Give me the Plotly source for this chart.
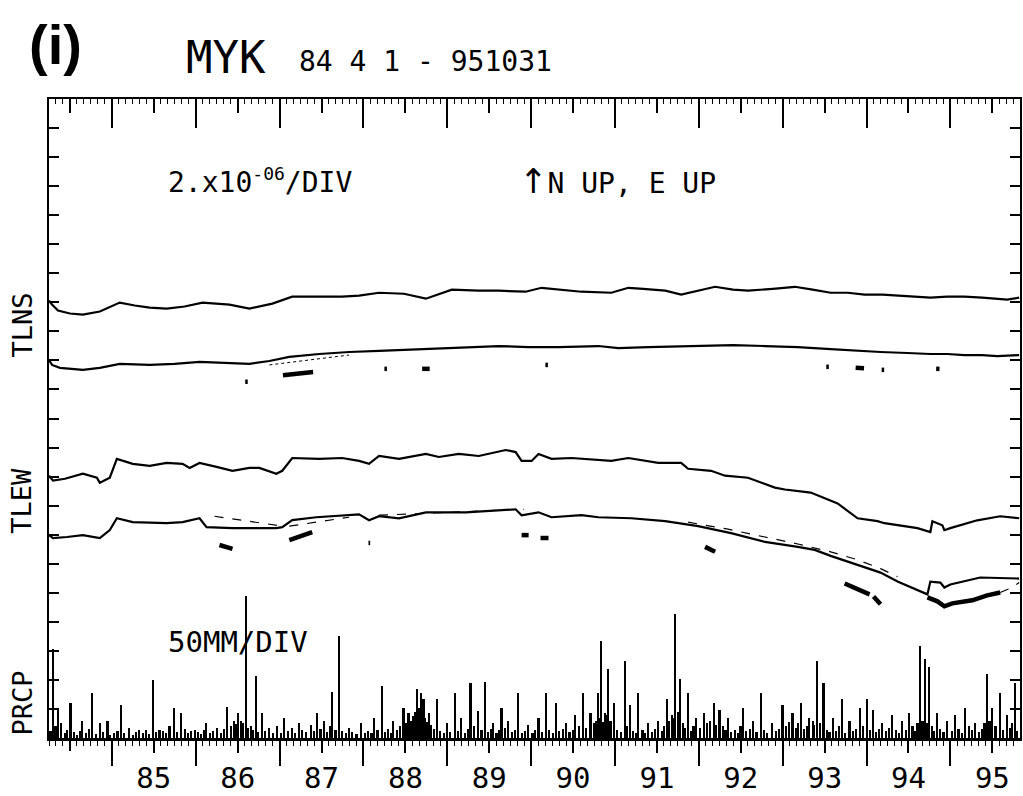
import plotly.graph_objects as go

# ---------------------------------------------------------------------------
# MYK tilt station, 1984-04-01 .. 1995-10-31
# Times are decimal years; tilt values are in micro-radians relative to a
# reference level of each record; precipitation in mm.
# ---------------------------------------------------------------------------

# TLNS (north-south tilt), raw record
tlns_raw_t = [1984.25, 1984.286, 1984.357, 1984.50, 1984.654, 1984.856, 1985.094, 1985.273,
              1985.451, 1985.653, 1985.867, 1986.081, 1986.402, 1986.64, 1986.914, 1987.151,
              1987.472, 1987.746, 1987.948, 1988.186, 1988.483, 1988.745, 1989.054, 1989.375,
              1989.613, 1989.934, 1990.124, 1990.326, 1990.6, 1990.956, 1991.159, 1991.337,
              1991.599, 1991.789, 1991.991, 1992.194, 1992.407, 1992.586, 1992.883, 1993.144,
              1993.358, 1993.572, 1993.775, 1993.977, 1994.191, 1994.369, 1994.547, 1994.761,
              1994.963, 1995.166, 1995.38, 1995.558, 1995.677, 1995.82]
tlns_raw_v = [0.48, 0.2, -0.2, -0.41, -0.48, -0.27, 0.34, 0.14,
              0.0, -0.07, 0.07, 0.34, 0.2, -0.07, 0.27, 0.75,
              0.75, 0.75, 0.82, 1.02, 0.95, 0.61, 1.23, 1.16,
              1.16, 1.09, 1.36, 1.23, 1.09, 1.02, 1.36, 1.29,
              1.16, 0.89, 1.16, 1.43, 1.23, 1.16, 1.29, 1.43,
              1.23, 1.02, 1.02, 0.89, 0.89, 0.82, 0.75, 0.68,
              0.75, 0.75, 0.68, 0.61, 0.54, 0.68]

# TLNS, corrected record
tlns_cor_t = [1984.25, 1984.286, 1984.381, 1984.654, 1984.856, 1985.094, 1985.451, 1985.748,
              1986.045, 1986.343, 1986.64, 1986.878, 1987.116, 1987.472, 1987.829, 1988.186,
              1988.424, 1988.721, 1989.018, 1989.292, 1989.613, 1989.97, 1990.326, 1990.802,
              1991.04, 1991.396, 1991.991, 1992.407, 1992.788, 1993.18, 1993.572, 1993.893,
              1994.167, 1994.488, 1994.761, 1994.963, 1995.166, 1995.38, 1995.558, 1995.82]
tlns_cor_v = [0.27, -0.07, -0.27, -0.41, -0.27, 0.0, -0.07, 0.0,
              0.14, 0.07, 0.0, 0.2, 0.48, 0.68, 0.82, 0.89,
              0.95, 1.02, 1.09, 1.16, 1.23, 1.16, 1.16, 1.23,
              1.09, 1.16, 1.23, 1.29, 1.23, 1.16, 1.02, 0.89,
              0.82, 0.75, 0.68, 0.68, 0.61, 0.61, 0.54, 0.61]

# TLNS, interpolated trend segment (thin)
tlns_trend_t = [1986.878, 1987.829]
tlns_trend_v = [-0.07, 0.61]

# TLNS, removed offset pieces (relative to the corrected record level)
tlns_off_t = [1986.59, 1986.62, None, 1987.04, 1987.17, 1987.30, 1987.40, None,
              1988.25, 1988.28, None, 1988.70, 1988.79, None, 1990.17, 1990.20, None,
              1993.52, 1993.55, None, 1993.87, 1993.97, None, 1994.18, 1994.21, None,
              1994.83, 1994.87]
tlns_off_v = [-1.23, -1.23, None, -0.78, -0.70, -0.62, -0.56, None,
              -0.34, -0.34, None, -0.34, -0.34, None, -0.07, -0.07, None,
              -0.2, -0.2, None, -0.27, -0.30, None, -0.41, -0.41, None,
              -0.34, -0.34]

# TLEW (east-west tilt), raw record
tlew_raw_t = [1984.25, 1984.298, 1984.44, 1984.654, 1984.821, 1984.856, 1984.975, 1985.059,
              1985.249, 1985.451, 1985.653, 1985.843, 1985.927, 1986.045, 1986.248, 1986.438,
              1986.64, 1986.759, 1986.961, 1987.032, 1987.151, 1987.472, 1987.746, 1987.948,
              1988.067, 1988.186, 1988.424, 1988.745, 1988.899, 1989.137, 1989.375, 1989.696,
              1989.815, 1989.886, 1990.005, 1990.088, 1990.243, 1990.481, 1990.956, 1991.159,
              1991.515, 1991.789, 1991.872, 1992.146, 1992.312, 1992.586, 1992.907, 1993.026,
              1993.334, 1993.655, 1993.893, 1994.131, 1994.214, 1994.607, 1994.761, 1994.785,
              1994.904, 1994.928, 1994.999, 1995.32, 1995.594, 1995.82]
tlew_raw_v = [-0.68, -1.02, -0.89, -0.54, -0.82, -1.16, -0.82, 0.48,
              0.14, 0.0, 0.2, 0.14, -0.14, 0.2, -0.07, -0.34,
              -0.14, -0.14, -0.54, -0.34, 0.54, 0.48, 0.54, 0.34,
              0.14, 0.68, 0.48, 0.82, 0.61, 0.82, 0.68, 1.09,
              0.95, 0.34, 0.34, 0.82, 0.48, 0.54, 0.34, 0.54,
              0.2, 0.2, -0.2, -0.34, -0.68, -0.82, -1.5, -1.63,
              -1.84, -2.59, -3.61, -3.81, -3.95, -4.29, -4.56, -3.81,
              -4.09, -4.43, -4.29, -3.75, -3.47, -3.61]

# TLEW, corrected record
tlew_cor_t = [1984.25, 1984.298, 1984.464, 1984.654, 1984.856, 1984.975, 1985.059, 1985.249,
              1985.653, 1985.843, 1986.045, 1986.129, 1986.438, 1986.961, 1987.032, 1987.151,
              1987.437, 1987.746, 1987.948, 1988.067, 1988.186, 1988.424, 1988.745, 1989.22,
              1989.613, 1989.815, 1989.886, 1990.088, 1990.243, 1990.6, 1990.802, 1991.194,
              1991.599, 1991.991, 1992.384, 1992.788, 1993.18, 1993.382, 1993.572, 1993.893,
              1994.167, 1994.369, 1994.726, 1994.761, 1994.88, 1994.928, 1994.999, 1995.356,
              1995.82]
tlew_cor_v = [-0.89, -1.09, -1.02, -0.89, -1.09, -0.54, 0.27, 0.0,
              -0.07, 0.0, 0.27, -0.34, -0.41, -0.41, -0.34, 0.14,
              0.34, 0.48, 0.54, 0.14, 0.41, 0.27, 0.68, 0.68,
              0.82, 0.89, 0.48, 0.68, 0.34, 0.48, 0.34, 0.27,
              0.07, -0.27, -0.75, -1.36, -1.7, -1.91, -2.32, -2.93,
              -3.47, -4.09, -4.97, -4.09, -4.16, -4.5, -4.29, -3.81,
              -3.88]

# TLEW, interpolated trend segments (thin)
tlew_trend_t = [1986.224, 1987.032, None, 1987.116, 1987.829, None, 1988.186, 1989.91, None,
                1991.872, 1992.348, 1992.788, 1993.18, 1993.572, 1993.893, 1994.167, 1994.369,
                None, 1995.594, 1995.736, 1995.82]
tlew_trend_v = [0.41, -0.27, None, -0.27, 0.34, None, 0.48, 0.89, None,
                0.0, -0.48, -1.02, -1.5, -2.04, -2.59, -3.2, -3.75,
                None, -4.84, -4.5, -4.16]

# TLEW, removed offset pieces (relative to the corrected record level)
tlew_off_t = [1986.283, 1986.438, None, 1987.116, 1987.389, None, 1988.06, 1988.08, None,
              1989.886, 1989.97, None, 1990.112, 1990.207, None, 1992.074, 1992.194, None,
              1993.739, 1993.893, 1994.036, None, 1994.083, 1994.167, None,
              1994.726, 1994.845, 1994.928, 1995.023, 1995.261, 1995.439, 1995.594]
tlew_off_v = [-1.57, -1.84, None, -1.23, -0.68, None, -1.43, -1.43, None,
              -0.89, -0.89, None, -1.09, -1.09, None, -1.70, -2.04, None,
              -4.22, -4.63, -4.97, None, -5.11, -5.65, None,
              -5.18, -5.45, -5.79, -5.59, -5.38, -5.04, -4.84]

# PRCP, precipitation (mm)
prcp_t = [
    1984.27, 1984.30, 1984.33, 1984.36, 1984.40, 1984.44, 1984.47, 1984.51, 1984.55, 1984.59,
    1984.62, 1984.65, 1984.69, 1984.73, 1984.77, 1984.81, 1984.86, 1984.90, 1984.95, 1984.98,
    1985.03, 1985.07, 1985.11, 1985.15, 1985.21, 1985.25, 1985.29, 1985.33, 1985.37, 1985.41,
    1985.45, 1985.49, 1985.53, 1985.57, 1985.61, 1985.65, 1985.69, 1985.74, 1985.78, 1985.83,
    1985.87, 1985.91, 1985.95, 1985.99,
    1986.03, 1986.07, 1986.10, 1986.13, 1986.17, 1986.21, 1986.26, 1986.30, 1986.34, 1986.38,
    1986.42, 1986.46, 1986.49, 1986.51, 1986.54, 1986.57, 1986.60, 1986.63, 1986.66, 1986.69,
    1986.72, 1986.75, 1986.79, 1986.83, 1986.88, 1986.92, 1986.97,
    1987.02, 1987.06, 1987.10, 1987.15, 1987.19, 1987.23, 1987.27, 1987.32, 1987.38, 1987.41,
    1987.45, 1987.49, 1987.53, 1987.57, 1987.60, 1987.63, 1987.67, 1987.71, 1987.75, 1987.79,
    1987.83, 1987.87, 1987.92, 1987.97,
    1988.02, 1988.06, 1988.10, 1988.13, 1988.17, 1988.22, 1988.26, 1988.30, 1988.33, 1988.36,
    1988.40, 1988.44, 1988.48, 1988.51, 1988.54, 1988.57, 1988.60, 1988.62, 1988.64, 1988.66,
    1988.69, 1988.70, 1988.72, 1988.74, 1988.76, 1988.78, 1988.81, 1988.84, 1988.88, 1988.92,
    1988.96,
    1989.00, 1989.04, 1989.09, 1989.13, 1989.17, 1989.21, 1989.25, 1989.28, 1989.32, 1989.37,
    1989.41, 1989.45, 1989.49, 1989.52, 1989.55, 1989.59, 1989.62, 1989.65, 1989.69, 1989.73,
    1989.77, 1989.81, 1989.85, 1989.89, 1989.93, 1989.97,
    1990.02, 1990.05, 1990.09, 1990.13, 1990.18, 1990.22, 1990.26, 1990.30, 1990.34, 1990.38,
    1990.42, 1990.46, 1990.50, 1990.53, 1990.57, 1990.62, 1990.66, 1990.71, 1990.75, 1990.78,
    1990.80, 1990.82, 1990.84, 1990.86, 1990.88, 1990.90, 1990.92, 1990.95, 1990.99,
    1991.03, 1991.07, 1991.12, 1991.15, 1991.18, 1991.22, 1991.25, 1991.28, 1991.33, 1991.36,
    1991.40, 1991.44, 1991.48, 1991.52, 1991.56, 1991.59, 1991.62, 1991.65, 1991.68, 1991.70,
    1991.72, 1991.75, 1991.78, 1991.81, 1991.84, 1991.87, 1991.91, 1991.94, 1991.97,
    1992.02, 1992.06, 1992.10, 1992.14, 1992.18, 1992.21, 1992.25, 1992.29, 1992.32, 1992.35,
    1992.39, 1992.43, 1992.47, 1992.50, 1992.53, 1992.57, 1992.61, 1992.65, 1992.69, 1992.74,
    1992.78, 1992.82, 1992.88, 1992.92, 1992.96,
    1993.00, 1993.04, 1993.08, 1993.12, 1993.16, 1993.19, 1993.22, 1993.26, 1993.29, 1993.32,
    1993.36, 1993.38, 1993.41, 1993.45, 1993.49, 1993.53, 1993.56, 1993.60, 1993.64, 1993.67,
    1993.71, 1993.75, 1993.80, 1993.84, 1993.88, 1993.92, 1993.96,
    1994.01, 1994.04, 1994.08, 1994.12, 1994.15, 1994.19, 1994.23, 1994.27, 1994.31, 1994.35,
    1994.39, 1994.43, 1994.47, 1994.51, 1994.55, 1994.58, 1994.61, 1994.64, 1994.67, 1994.70,
    1994.72, 1994.75, 1994.78, 1994.81, 1994.84, 1994.88, 1994.92, 1994.96,
    1995.02, 1995.06, 1995.10, 1995.14, 1995.18, 1995.22, 1995.26, 1995.30, 1995.34, 1995.38,
    1995.41, 1995.44, 1995.47, 1995.50, 1995.54, 1995.59, 1995.63, 1995.68, 1995.72, 1995.74,
    1995.77, 1995.80,
]
prcp_mm = [
    12, 153, 20, 51, 26, 8, 14, 60, 10, 6,
    12, 29, 9, 15, 77, 7, 26, 10, 29, 6,
    8, 12, 56, 9, 17, 6, 11, 14, 8, 13,
    7, 99, 10, 14, 12, 9, 20, 51, 11, 43,
    16, 8, 12, 14,
    10, 7, 14, 26, 9, 12, 17, 8, 15, 54,
    20, 29, 24, 43, 30, 26, 244, 18, 20, 14,
    107, 10, 43, 12, 17, 9, 20,
    9, 34, 12, 17, 8, 26, 14, 10, 22, 12,
    43, 16, 29, 11, 20, 80, 14, 175, 12, 8,
    17, 10, 7, 26,
    8, 12, 9, 34, 14, 90, 11, 16, 9, 29,
    13, 20, 51, 25, 43, 30, 38, 45, 85, 52,
    77, 40, 68, 35, 28, 43, 22, 15, 68, 12,
    9,
    26, 10, 77, 12, 34, 9, 15, 94, 20, 46,
    14, 97, 11, 16, 26, 9, 13, 51, 18, 29,
    10, 14, 77, 8, 12, 22,
    9, 13, 34, 10, 77, 14, 8, 60, 12, 16,
    26, 10, 14, 39, 20, 77, 18, 43, 25, 30,
    77, 35, 167, 28, 43, 40, 119, 30, 60,
    14, 10, 133, 20, 56, 12, 9, 77, 14, 8,
    26, 11, 15, 29, 12, 20, 68, 30, 40, 35,
    213, 45, 102, 25, 18, 77, 12, 20, 34,
    18, 43, 25, 30, 60, 22, 48, 20, 14, 34,
    10, 14, 9, 20, 51, 12, 16, 29, 10, 77,
    14, 9, 26, 12, 16,
    56, 20, 28, 43, 18, 25, 60, 15, 20, 34,
    30, 22, 133, 25, 94, 14, 10, 34, 12, 20,
    68, 9, 29, 12, 16, 51, 20,
    68, 14, 48, 10, 16, 26, 12, 18, 39, 14,
    9, 29, 14, 43, 20, 12, 25, 158, 30, 136,
    25, 123, 20, 12, 43, 16, 10, 29,
    12, 39, 16, 9, 51, 20, 14, 26, 10, 16,
    25, 111, 30, 51, 20, 77, 14, 39, 18, 25,
    94, 12,
]

# Year labels along the time axis (centred on mid-year)
year_labels = ["85", "86", "87", "88", "89", "90", "91", "92", "93", "94", "95"]

# ---------------------------------------------------------------------------
# Scales and layout of the record strip
# ---------------------------------------------------------------------------
URAD_PER_DIV = 2.0     # 2.x10^-06 per division
MM_PER_DIV = 50.0      # 50 mm per division
N_DIV = 22
T_START, T_END = 1984.25, 1995.83

# vertical placement of each record, in divisions above the baseline
TLNS_RAW_LEVEL = 14.82
TLNS_COR_LEVEL = 12.88
TLEW_RAW_LEVEL = 9.37
TLEW_COR_LEVEL = 7.43

INK = "black"
MONO = "DejaVu Sans Mono, monospace"

W, H = 1023, 796
ML, MR, MT, MB = 49, 1, 99, 51


def place(level, vals):
    return [None if v is None else level + v / URAD_PER_DIV for v in vals]


def paper_x(px):
    return (px - ML) / (W - ML - MR)


def paper_y(py):
    return (H - MB - py) / (H - MT - MB)


fig = go.Figure()

# precipitation sticks
fig.add_trace(go.Bar(
    x=prcp_t, y=[m / MM_PER_DIV for m in prcp_mm], width=0.02,
    marker=dict(color=INK, line=dict(width=0)), showlegend=False, hoverinfo="skip",
))


def add_line(t, v, level, width, dash="solid"):
    fig.add_trace(go.Scatter(
        x=t, y=place(level, v), mode="lines", connectgaps=False,
        line=dict(color=INK, width=width, dash=dash),
        showlegend=False, hoverinfo="skip",
    ))


add_line(tlns_raw_t, tlns_raw_v, TLNS_RAW_LEVEL, 2.2)
add_line(tlns_cor_t, tlns_cor_v, TLNS_COR_LEVEL, 2.2)
add_line(tlns_trend_t, tlns_trend_v, TLNS_COR_LEVEL, 1, "dot")
add_line(tlns_off_t, tlns_off_v, TLNS_COR_LEVEL, 4.5)
add_line(tlew_raw_t, tlew_raw_v, TLEW_RAW_LEVEL, 2.2)
add_line(tlew_cor_t, tlew_cor_v, TLEW_COR_LEVEL, 2.2)
add_line(tlew_trend_t, tlew_trend_v, TLEW_COR_LEVEL, 1.2, "dash")
add_line(tlew_off_t, tlew_off_v, TLEW_COR_LEVEL, 4.5)

# placeholder traces so the extra tick axes are laid out
for ax in ("x2", "x3", "x4", "x5"):
    fig.add_trace(go.Scatter(x=[T_START], y=[0], xaxis=ax, yaxis="y", mode="markers",
                             marker=dict(opacity=0), showlegend=False, hoverinfo="skip"))

months = [T_START + k / 12 for k in range(0, 140) if T_START + k / 12 <= T_END]
mid_years = [1984.5 + k for k in range(12)]
jan_years = [1985 + k for k in range(11)]

common_x = dict(range=[T_START, T_END], showgrid=False, zeroline=False, fixedrange=True)

fig.update_layout(
    width=W, height=H,
    margin=dict(l=ML, r=MR, t=MT, b=MB, pad=0),
    paper_bgcolor="white", plot_bgcolor="white",
    bargap=0, showlegend=False,
    # bottom: labelled mid-year ticks + monthly minor ticks
    xaxis=dict(
        **common_x,
        tickmode="array", tickvals=mid_years[1:], ticktext=year_labels,
        ticks="outside", ticklen=12, tickwidth=1.5, tickcolor=INK,
        showline=True, linecolor=INK, linewidth=2.5,
        tickfont=dict(family=MONO, size=29, color=INK),
        minor=dict(tickmode="array", tickvals=months, ticks="outside", ticklen=5,
                   tickwidth=1, tickcolor=INK, showgrid=False),
    ),
    # bottom: January ticks
    xaxis2=dict(
        **common_x, overlaying="x", side="bottom", anchor="y",
        tickmode="array", tickvals=jan_years, ticks="outside", ticklen=27,
        tickwidth=1.5, tickcolor=INK, showticklabels=False, showline=False,
    ),
    # top: mid-year + monthly ticks pointing into the frame
    xaxis3=dict(
        **common_x, overlaying="x", side="top", anchor="y",
        tickmode="array", tickvals=mid_years, ticks="inside", ticklen=14,
        tickwidth=1.5, tickcolor=INK, showticklabels=False,
        showline=True, linecolor=INK, linewidth=2,
        minor=dict(tickmode="array", tickvals=months, ticks="inside", ticklen=5,
                   tickwidth=1, tickcolor=INK, showgrid=False),
    ),
    # top: January ticks
    xaxis4=dict(
        **common_x, overlaying="x", side="top", anchor="y",
        tickmode="array", tickvals=jan_years, ticks="inside", ticklen=29,
        tickwidth=2, tickcolor=INK, showticklabels=False, showline=False,
    ),
    # bottom: unlabelled mid-year tick of the partial first year
    xaxis5=dict(
        **common_x, overlaying="x", side="bottom", anchor="y",
        tickmode="array", tickvals=mid_years[:1], ticks="outside", ticklen=12,
        tickwidth=1.5, tickcolor=INK, showticklabels=False, showline=False,
    ),
    yaxis=dict(
        range=[0, N_DIV], tickmode="array", tickvals=list(range(1, N_DIV)),
        ticks="inside", ticklen=10, tickwidth=1.5, tickcolor=INK,
        showticklabels=False, showgrid=False, zeroline=False,
        showline=True, linecolor=INK, linewidth=2, mirror="ticks", fixedrange=True,
    ),
)

annotations = [
    dict(text="<b>(i)</b>", x=paper_x(56), y=paper_y(44), xanchor="center", yanchor="middle",
         font=dict(family="Liberation Sans, Arial", size=56, color=INK)),
    dict(text="MYK", x=paper_x(184), y=paper_y(57), xanchor="left", yanchor="middle",
         font=dict(family=MONO, size=44, color=INK)),
    dict(text="84 4 1 - 951031", x=paper_x(298), y=paper_y(61), xanchor="left", yanchor="middle",
         font=dict(family=MONO, size=28, color=INK)),
    dict(text="2.x10<sup><span style='font-size:18px'>-06</span></sup>/DIV",
         x=paper_x(166), y=paper_y(182), xanchor="left", yanchor="middle",
         font=dict(family=MONO, size=28, color=INK)),
    dict(text="<span style='font-family:DejaVu Sans; font-size:34px'>\u2191</span>N UP, E UP",
         x=paper_x(518), y=paper_y(182), xanchor="left", yanchor="middle",
         font=dict(family=MONO, size=28, color=INK)),
    dict(text="50MM/DIV", x=paper_x(166), y=paper_y(648), xanchor="left", yanchor="middle",
         font=dict(family=MONO, size=29, color=INK)),
    dict(text="TLNS", x=paper_x(22), y=paper_y(328), xanchor="center", yanchor="middle",
         textangle=-90, font=dict(family=MONO, size=27, color=INK)),
    dict(text="TLEW", x=paper_x(22), y=paper_y(505), xanchor="center", yanchor="middle",
         textangle=-90, font=dict(family=MONO, size=27, color=INK)),
    dict(text="PRCP", x=paper_x(22), y=paper_y(710), xanchor="center", yanchor="middle",
         textangle=-90, font=dict(family=MONO, size=27, color=INK)),
]
for a in annotations:
    a.update(xref="paper", yref="paper", showarrow=False)
fig.update_layout(annotations=annotations)

fig.write_html("out.html", config={"displayModeBar": False})
